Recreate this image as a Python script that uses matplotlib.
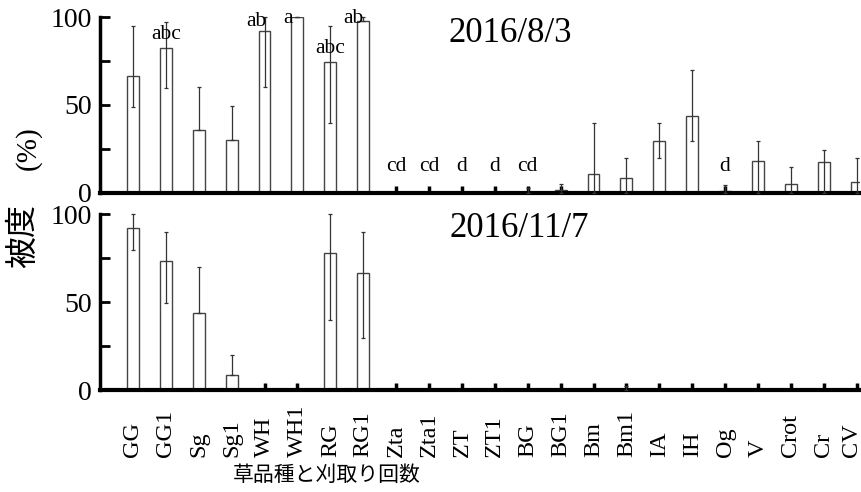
import numpy as np
import matplotlib
matplotlib.use("Agg")
import matplotlib.pyplot as plt
from matplotlib.ticker import MultipleLocator
from matplotlib.transforms import ScaledTranslation

# categories (grass species and cut counts)
cats = ["GG", "GG1", "Sg", "Sg1", "WH", "WH1", "RG", "RG1", "Zta", "Zta1",
        "ZT", "ZT1", "BG", "BG1", "Bm", "Bm1", "IA", "IH", "Og", "V",
        "Crot", "Cr", "CV"]

# 2016/8/3 : mean cover, upper and lower error bounds (%)
aug_mean = [66.5, 82.6, 35.8, 30.0, 92.0, 100.0, 74.6, 97.7, 0, 0,
            0, 0, 0.8, 1.5, 10.8, 8.5, 29.7, 43.8, 1.0, 18.2,
            5.1, 17.8, 6.4]
aug_hi = [95.0, 97.3, 60.0, 49.7, 100.0, 100.0, 95.0, 100.0, 0, 0,
          0, 0, 3.0, 5.0, 40.0, 20.0, 39.6, 69.7, 4.5, 29.7,
          14.8, 24.4, 19.9]
aug_lo = [49.0, 59.8, 35.8, 30.0, 60.0, 100.0, 40.0, 97.7, 0, 0,
          0, 0, 0.0, 0.0, 0.0, 0.0, 19.7, 29.5, 0.0, 0.0,
          0.0, 0.0, 0.0]
aug_letters = ["", "abc", "", "", "ab", "a", "abc", "ab", "cd", "cd",
               "d", "d", "cd", "", "", "", "", "", "d", "",
               "", "", ""]
aug_letter_y = [0, 90, 0, 0, 97.5, 99, 82, 99, 15, 15,
                15, 15, 15, 0, 0, 0, 0, 0, 15, 0,
                0, 0, 0]
aug_letter_dx = [0, 0, 0, 0, -0.25, -0.3, 0, -0.3, 0, 0,
                 0, 0, 0, 0, 0, 0, 0, 0, 0, 0,
                 0, 0, 0]

# 2016/11/7
nov_mean = [91.9, 73.5, 43.9, 8.5, 0, 0, 78.0, 66.7, 0, 0,
            0, 0, 0, 0, 0, 0.5, 0, 0, 0, 0,
            0, 0, 0]
nov_hi = [100.0, 89.6, 69.7, 19.9, 0, 0, 100.0, 89.6, 0, 0,
          0, 0, 0, 0, 0, 2.0, 0, 0, 0, 0,
          0, 0, 0]
nov_lo = [79.5, 49.2, 43.9, 8.5, 0, 0, 39.8, 29.7, 0, 0,
          0, 0, 0, 0, 0, 0.0, 0, 0, 0, 0,
          0, 0, 0]

serif = "Liberation Serif"
cjk = "Noto Sans CJK JP"

fig = plt.figure(figsize=(8.62, 4.92), dpi=100)
ax1 = fig.add_axes([100 / 862, (492 - 193) / 492, 760 / 862, 176 / 492])
ax2 = fig.add_axes([100 / 862, (492 - 390) / 492, 760 / 862, 176 / 492])

x = np.arange(len(cats))


def draw_panel(ax, mean, hi, lo, title, tx, ty):
    mean = np.array(mean)
    err = np.vstack([mean - np.array(lo), np.array(hi) - mean])
    show = (np.array(hi) > 0)
    ax.bar(x, mean, width=0.36, color="white", edgecolor="#444444",
           linewidth=1.0, zorder=2)
    ax.errorbar(x[show], mean[show], yerr=err[:, show], fmt="none",
                ecolor="#333333", elinewidth=0.9, capsize=1.5,
                capthick=0.9, zorder=3, clip_on=False)
    ax.set_xlim(-1.0, 22.1)
    ax.set_ylim(0, 100)
    ax.set_xticks(x)
    ax.yaxis.set_major_locator(MultipleLocator(50))
    ax.yaxis.set_minor_locator(MultipleLocator(25))
    for s in ["top", "right"]:
        ax.spines[s].set_visible(False)
    ax.spines["bottom"].set_linewidth(3)
    ax.spines["left"].set_linewidth(2.5)
    ax.tick_params(axis="x", direction="in", length=5, width=2.5)
    ax.tick_params(axis="y", which="both", direction="in", length=7,
                   width=2, labelsize=20, pad=6)
    for lab in ax.get_yticklabels():
        lab.set_family(serif)
    ax.text(tx, ty, title, transform=ax.transAxes, ha="center",
            va="center", fontsize=25, family=serif)


draw_panel(ax1, aug_mean, aug_hi, aug_lo, "2016/8/3", 0.54, 0.905)
draw_panel(ax2, nov_mean, nov_hi, nov_lo, "2016/11/7", 0.551, 0.915)

# significance letters (top panel)
for i, t in enumerate(aug_letters):
    if t:
        ax1.text(i + aug_letter_dx[i], aug_letter_y[i], t, ha="center",
                 va="center", fontsize=15.5, family=serif, clip_on=False,
                 zorder=4)

ax1.tick_params(axis="x", labelbottom=False)
ax2.set_xticklabels(cats, rotation=90, va="bottom", ha="center",
                    family=serif, fontsize=17.5)
ax2.tick_params(axis="x", pad=48)
# last label sits at the right edge; nudge it left a little
last = ax2.get_xticklabels()[-1]
last.set_transform(last.get_transform()
                   + ScaledTranslation(-5 / 100, 0, fig.dpi_scale_trans))

fig.text(327 / 862, 1 - 475 / 492, "草品種と刈取り回数", ha="center",
         va="center", fontsize=15, family=cjk)
# y label: 被度 (%)
fig.text(23 / 862, 1 - 236 / 492, "被度", rotation=90, ha="center",
         va="center", fontsize=23, family=cjk)
fig.text(28 / 862, 1 - 148 / 492, "(%)", rotation=90, ha="center",
         va="center", fontsize=21, family=serif)

fig.savefig("out.png", dpi=100)
